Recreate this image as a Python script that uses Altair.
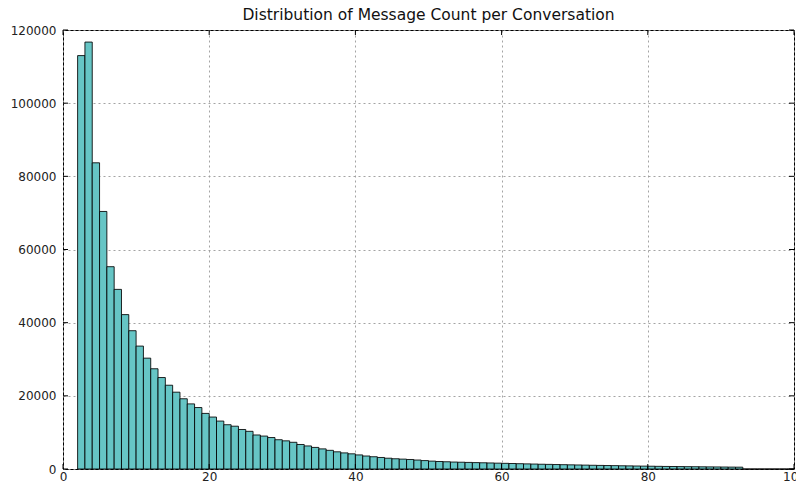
import altair as alt
import pandas as pd

# Histogram bins (width 1) starting at 2, counts
bin_starts = list(range(2, 100))
counts = [
    113000, 116700, 83700, 70400, 55300, 49100, 42200, 37800, 33600, 30300,
    27400, 25000, 22900, 21000, 19200, 17800, 16800, 15200, 14200, 13100,
    12100, 11700, 10800, 10300, 9300, 9000, 8600, 8000, 7700, 7300,
    6700, 6300, 5900, 5500, 5100, 4700, 4400, 4150, 3850, 3550,
    3350, 3150, 2950, 2800, 2700, 2600, 2450, 2300, 2150, 2050,
    1980, 1900, 1850, 1800, 1750, 1700, 1650, 1600, 1550, 1500,
    1450, 1400, 1350, 1300, 1260, 1220, 1180, 1140, 1100, 1060,
    1020, 980, 950, 920, 880, 850, 820, 790, 760, 730,
    700, 680, 660, 640, 620, 600, 580, 560, 540, 520,
    500, 0, 0, 0, 0, 0, 0, 0,
]
x_ticks = [0, 20, 40, 60, 80, 100]
y_ticks = [0, 20000, 40000, 60000, 80000, 100000, 120000]
title_text = "Distribution of Message Count per Conversation"

df = pd.DataFrame({
    "start": bin_starts,
    "end": [s + 1 for s in bin_starts],
    "count": counts,
})
xt = pd.DataFrame({"v": x_ticks})
yt = pd.DataFrame({"v": y_ticks})

W, H = 731, 439
FONT = "DejaVu Sans"

xscale = alt.Scale(domain=[0, 100], nice=False)
yscale = alt.Scale(domain=[0, 120000], nice=False)

bars = alt.Chart(df).mark_bar(
    color="#66c5c5", stroke="#000000", strokeWidth=1, strokeOpacity=0.85
).encode(
    x=alt.X("start:Q", scale=xscale, title=None,
            axis=alt.Axis(values=x_ticks, grid=True, labelPadding=2,
                          labelFlush=False)),
    x2="end:Q",
    y=alt.Y("count:Q", scale=yscale, title=None,
            axis=alt.Axis(values=y_ticks, grid=True, labelPadding=7,
                          format="d")),
    y2=alt.datum(0),
)

tick_len = 5
xt_bottom = alt.Chart(xt).mark_rule(color="black", strokeWidth=1).encode(
    x=alt.X("v:Q", scale=xscale), y=alt.value(H), y2=alt.value(H - tick_len))
xt_top = alt.Chart(xt).mark_rule(color="black", strokeWidth=1).encode(
    x=alt.X("v:Q", scale=xscale), y=alt.value(0), y2=alt.value(tick_len))
yt_left = alt.Chart(yt).mark_rule(color="black", strokeWidth=1).encode(
    y=alt.Y("v:Q", scale=yscale), x=alt.value(0), x2=alt.value(tick_len))
yt_right = alt.Chart(yt).mark_rule(color="black", strokeWidth=1).encode(
    y=alt.Y("v:Q", scale=yscale), x=alt.value(W), x2=alt.value(W - tick_len))

chart = alt.layer(bars, xt_bottom, xt_top, yt_left, yt_right).properties(
    width=W, height=H,
    title=alt.TitleParams(title_text, font=FONT, fontSize=15.5, fontWeight="normal",
                          color="#111111", anchor="middle", offset=1,
                          frame="group"),
    autosize=alt.AutoSizeParams(type="none"),
    padding={"left": 55, "top": 22, "right": 2, "bottom": 14},
).configure_view(
    stroke="black", strokeWidth=1
).configure_axis(
    domain=False, ticks=False, labelFont=FONT, labelFontSize=12,
    labelColor="#222222", gridColor="#9a9a9a", gridDash=[2, 3],
    gridWidth=1, gridOpacity=0.9,
)

chart.save("out.html", embed_options={"renderer": "svg", "actions": False})
